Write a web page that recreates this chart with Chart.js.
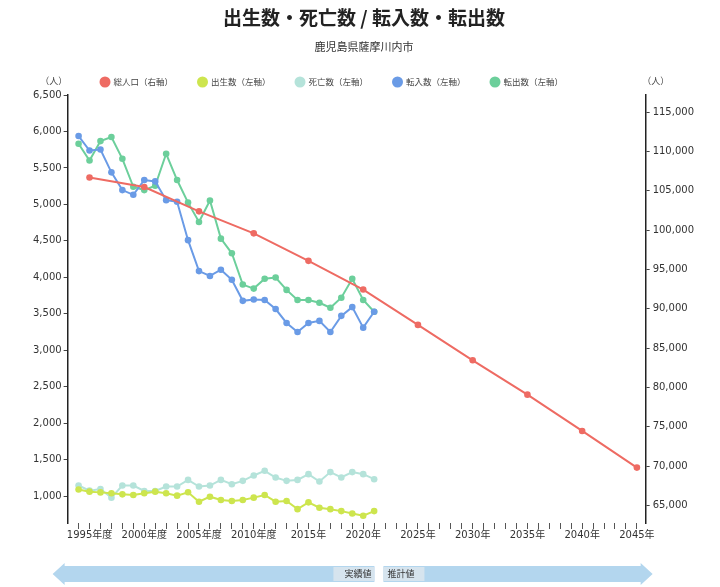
<!DOCTYPE html>
<html>
<head>
<meta charset="utf-8">
<script src="https://cdn.jsdelivr.net/npm/chart.js@4/dist/chart.umd.min.js"></script>
<style>
  body { margin: 0; background: #fff; }
  #wrap { width: 720px; height: 587px; }
</style>
</head>
<body>
<div id="wrap"><canvas id="myChart"></canvas></div>
<script>
// annual data (births, deaths, moves in / out), left axis
var years = [1994, 1995, 1996, 1997, 1998, 1999, 2000, 2001, 2002, 2003,
             2004, 2005, 2006, 2007, 2008, 2009, 2010, 2011, 2012, 2013,
             2014, 2015, 2016, 2017, 2018, 2019, 2020, 2021];
var births = [1090, 1060, 1050, 1037, 1023, 1014, 1037, 1060, 1037, 1005,
              1051, 922, 991, 945, 931, 945, 978, 1014, 922, 931,
              820, 913, 839, 820, 793, 761, 729, 793];
var deaths = [1144, 1074, 1097, 978, 1144, 1144, 1069, 1069, 1130, 1130,
              1221, 1130, 1144, 1221, 1162, 1208, 1282, 1346, 1254, 1208,
              1221, 1300, 1199, 1328, 1254, 1328, 1300, 1231];
var movedIn = [5937, 5739, 5753, 5439, 5196, 5131, 5334, 5315, 5058, 5035,
               4509, 4085, 4018, 4104, 3966, 3677, 3696, 3689, 3564, 3374,
               3250, 3374, 3402, 3250, 3471, 3591, 3309, 3527];
var movedOut = [5832, 5601, 5868, 5923, 5625, 5241, 5196, 5255, 5694, 5334,
                5024, 4759, 5053, 4530, 4329, 3900, 3845, 3979, 3997, 3827,
                3688, 3688, 3651, 3582, 3720, 3979, 3688, 3527];

// total population every 5 years, right axis
var popYears = [1995, 2000, 2005, 2010, 2015, 2020, 2025, 2030, 2035, 2040, 2045];
var population = [106700, 105500, 102400, 99600, 96100, 92450, 87950, 83450, 79080, 74460, 69800];

// ticks
var leftTicks = [1000, 1500, 2000, 2500, 3000, 3500, 4000, 4500, 5000, 5500, 6000, 6500];
var rightTicks = [65000, 70000, 75000, 80000, 85000, 90000, 95000, 100000, 105000, 110000, 115000];
var xLabelYears = [1995, 2000, 2005, 2010, 2015, 2020, 2025, 2030, 2035, 2040, 2045];
var xLabels = ['1995年度', '2000年度', '2005年度', '2010年度', '2015年', '2020年',
               '2025年', '2030年', '2035年', '2040年', '2045年'];

var labelTexts = ['総人口（右軸）', '出生数（左軸）', '死亡数（左軸）', '転入数（左軸）', '転出数（左軸）'];
var colors = ['#ee6b63', '#cde54e', '#b5e3da', '#6a9be6', '#6ccf9b'];

var FONT = "'DejaVu Sans', 'Noto Sans CJK JP', sans-serif";
var CJK = "'Noto Sans CJK JP', sans-serif";

function pts(xs, ys) {
    return xs.map(function (x, i) { return { x: x, y: ys[i] }; });
}

function line(label, color, data, axis) {
    return {
        label: label,
        data: data,
        yAxisID: axis,
        borderColor: color,
        backgroundColor: color,
        pointBackgroundColor: color,
        pointBorderColor: color,
        borderWidth: 2,
        pointRadius: 3.3,
        pointBorderWidth: 0,
        tension: 0
    };
}

function fixedTicks(list) {
    return function (axis) {
        axis.ticks = list.map(function (v) { return { value: v }; });
    };
}

var decor = {
    id: 'decor',
    afterDraw: function (chart) {
        var ctx = chart.ctx;
        var xs = chart.scales.x;
        var area = chart.chartArea;
        ctx.save();

        // legend
        ctx.font = '8.5px ' + CJK;
        ctx.textBaseline = 'middle';
        ctx.textAlign = 'left';
        var lx = 99.5;
        chart.data.datasets.forEach(function (ds) {
            ctx.fillStyle = ds.borderColor;
            ctx.beginPath();
            ctx.arc(lx + 5.5, 82, 5.5, 0, Math.PI * 2);
            ctx.fill();
            ctx.fillStyle = '#444';
            ctx.fillText(ds.label, lx + 14, 82);
            lx += 14 + ctx.measureText(ds.label).width + 24;
        });

        // unit labels
        ctx.font = '9px ' + CJK;
        ctx.fillStyle = '#444';
        ctx.textAlign = 'center';
        ctx.fillText('（人）', area.left - 14, 81);
        ctx.fillText('（人）', area.right + 10, 81);

        // bottom arrows: 実績値 / 推計値
        var div = xs.getPixelForValue(2021.3);
        var y0 = 566, y1 = 582, ym = (y0 + y1) / 2;
        var leftTip = area.left - 15, rightTip = area.right + 7;
        ctx.fillStyle = '#b3d6ee';
        ctx.beginPath();
        ctx.moveTo(leftTip, ym);
        ctx.lineTo(leftTip + 12, ym - 11);
        ctx.lineTo(leftTip + 12, y0);
        ctx.lineTo(div - 3, y0);
        ctx.lineTo(div - 3, y1);
        ctx.lineTo(leftTip + 12, y1);
        ctx.lineTo(leftTip + 12, ym + 11);
        ctx.closePath();
        ctx.fill();
        ctx.beginPath();
        ctx.moveTo(rightTip, ym);
        ctx.lineTo(rightTip - 12, ym - 11);
        ctx.lineTo(rightTip - 12, y0);
        ctx.lineTo(div + 6, y0);
        ctx.lineTo(div + 6, y1);
        ctx.lineTo(rightTip - 12, y1);
        ctx.lineTo(rightTip - 12, ym + 11);
        ctx.closePath();
        ctx.fill();

        ctx.fillStyle = '#d6e4ee';
        ctx.fillRect(div - 44, y0 + 1, 41, y1 - y0 - 2);
        ctx.fillRect(div + 6, y0 + 1, 41, y1 - y0 - 2);
        ctx.fillStyle = '#333';
        ctx.font = '9px ' + CJK;
        ctx.textAlign = 'right';
        ctx.fillText('実績値', div - 6, ym);
        ctx.textAlign = 'left';
        ctx.fillText('推計値', div + 10, ym);

        ctx.restore();
    }
};

var data = {
    datasets: [
        line(labelTexts[0], colors[0], pts(popYears, population), 'yRight'),
        line(labelTexts[1], colors[1], pts(years, births), 'yLeft'),
        line(labelTexts[2], colors[2], pts(years, deaths), 'yLeft'),
        line(labelTexts[3], colors[3], pts(years, movedIn), 'yLeft'),
        line(labelTexts[4], colors[4], pts(years, movedOut), 'yLeft')
    ]
};

var ctx = document.getElementById('myChart');
var myChart = new Chart(ctx, {
    type: 'line',
    data: data,
    plugins: [decor],
    options: {
        responsive: true,
        maintainAspectRatio: false,
        animation: false,
        layout: { padding: { left: 31, right: 23, top: 0, bottom: 46 } },
        plugins: {
            legend: { display: false },
            tooltip: { enabled: false },
            title: {
                display: true,
                text: '出生数・死亡数 / 転入数・転出数',
                color: '#222',
                font: { family: CJK, size: 19, weight: 'bold' },
                padding: { top: 6, bottom: 11 }
            },
            subtitle: {
                display: true,
                text: '鹿児島県薩摩川内市',
                color: '#333',
                font: { family: CJK, size: 11 },
                padding: { top: 0, bottom: 42 }
            }
        },
        scales: {
            x: {
                type: 'linear',
                min: 1993,
                max: 2045.8,
                border: { display: false },
                grid: { drawOnChartArea: false, drawTicks: true, tickLength: 6, color: '#555' },
                afterBuildTicks: function (axis) {
                    // a tick mark for every year, labels every five years
                    var t = [];
                    for (var y = 1994; y <= 2045; y++) t.push({ value: y });
                    axis.ticks = t;
                },
                ticks: {
                    autoSkip: false,
                    maxRotation: 0,
                    padding: 0,
                    color: '#333',
                    font: { family: FONT, size: 10 },
                    callback: function (v) {
                        var i = xLabelYears.indexOf(v);
                        return i < 0 ? '' : xLabels[i];
                    }
                }
            },
            yLeft: {
                type: 'linear',
                position: 'left',
                min: 630,
                max: 6500,
                border: { display: true, color: '#222', width: 1.5 },
                grid: { drawOnChartArea: false, drawTicks: true, tickLength: 4, color: '#444' },
                afterBuildTicks: fixedTicks(leftTicks),
                ticks: {
                    autoSkip: false,
                    padding: 2,
                    color: '#333',
                    font: { family: FONT, size: 10 },
                    callback: function (v) { return v.toLocaleString('en-US'); }
                }
            },
            yRight: {
                type: 'linear',
                position: 'right',
                min: 62750,
                max: 117200,
                border: { display: true, color: '#222', width: 1.5 },
                grid: { drawOnChartArea: false, drawTicks: true, tickLength: 4, color: '#444' },
                afterBuildTicks: fixedTicks(rightTicks),
                ticks: {
                    autoSkip: false,
                    padding: 3,
                    color: '#333',
                    font: { family: FONT, size: 10 },
                    callback: function (v) { return v.toLocaleString('en-US'); }
                }
            }
        }
    }
});
</script>
</body>
</html>
